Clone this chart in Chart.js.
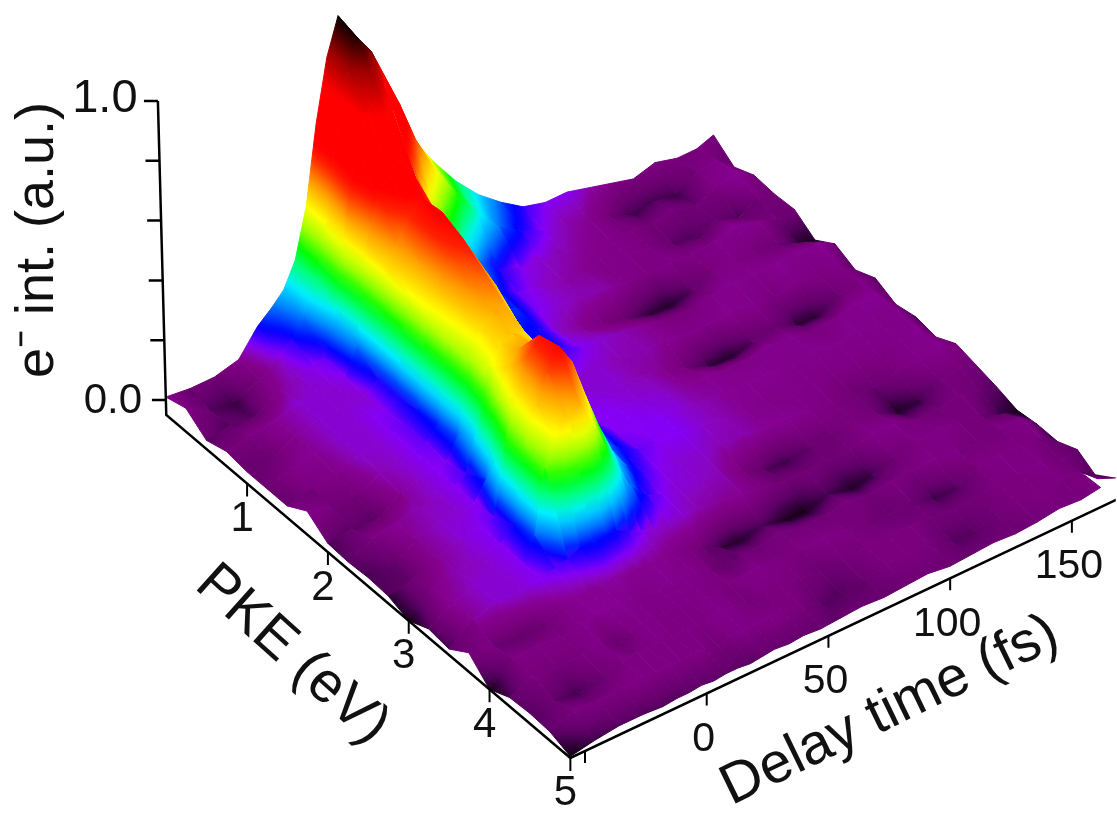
<!DOCTYPE html>
<html>
<head>
<meta charset="utf-8">
<title>PKE vs delay surface</title>
<script src="https://cdn.jsdelivr.net/npm/chart.js@4"></script>
<style>
html, body { margin: 0; padding: 0; background: #fff; overflow: hidden; }
canvas { display: block; }
</style>
</head>
<body>
<canvas id="surface" width="1117" height="814"></canvas>
<script>
// values
const pkeValues = [0, 0.25, 0.5, 0.75, 1, 1.25, 1.5, 1.75, 2, 2.25, 2.5, 2.75, 3, 3.25, 3.5, 3.75, 4, 4.25, 4.5, 4.75, 5];
const delayValues = [-56, -46, -36, -26, -18, -12, -7, -2, 3, 8, 13, 18, 23, 28, 34, 40, 47, 55, 64, 73, 82, 91, 100, 109, 118, 127, 136, 145, 154, 162, 169];
// one row per PKE value, one column per delay
const intensity = [
  [.01,.00,.00,.02,.10,.14,.18,.26,.42,.68,.88,1.0,.92,.81,.71,.59,.48,.37,.27,.19,.13,.08,.06,.06,.04,.02,.00,.02,.00,.00,.02],
  [.03,-.02,-.03,.01,.05,.09,.15,.25,.42,.70,.90,.98,.92,.82,.70,.56,.44,.33,.22,.14,.09,.06,.04,.03,.00,-.03,-.02,-.03,.01,.02,-.03],
  [-.02,-.01,-.02,.03,.05,.06,.07,.20,.50,.72,.82,.85,.78,.62,.50,.36,.26,.16,.09,.06,.05,.04,.03,.02,.01,.00,.01,-.01,.02,.03,.00],
  [.00,.01,.03,.05,.05,.05,.06,.14,.46,.60,.66,.70,.62,.50,.35,.24,.16,.11,.07,.05,.04,.03,.02,.02,.01,-.01,-.03,.00,-.03,.01,-.005],
  [-.01,-.01,.03,.05,.05,.05,.05,.09,.45,.52,.58,.62,.56,.42,.28,.19,.13,.11,.06,.05,.04,.04,.02,.01,.02,.01,.02,.03,.02,-.01,.00],
  [-.01,.02,.03,.05,.05,.06,.06,.09,.42,.50,.59,.63,.55,.40,.25,.15,.10,.10,.05,.03,.01,-.01,-.03,-.04,-.02,.01,.02,.00,.00,-.03,-.045],
  [-.01,.01,.02,.05,.05,.06,.07,.10,.40,.49,.56,.60,.52,.36,.22,.13,.09,.09,.06,.05,.04,.03,.01,.01,.02,.03,.02,.03,.02,.03,.00],
  [.03,.00,.00,.04,.05,.06,.07,.11,.37,.47,.52,.55,.48,.32,.18,.11,.07,.05,.05,.04,.04,.03,.02,.02,.03,.02,.01,.02,.01,.02,-.03],
  [-.02,-.01,-.02,.03,.05,.06,.06,.13,.36,.44,.49,.50,.42,.26,.13,.09,.06,.05,.05,.04,.03,.00,-.03,-.04,-.02,.00,-.03,-.04,.00,.01,.00],
  [-.025,.01,.03,.04,.05,.06,.08,.22,.40,.45,.47,.46,.38,.25,.13,.08,.06,.06,.05,.05,.03,.03,.02,.02,.03,.02,.01,.02,.03,.03,-.03],
  [-.02,-.02,.03,.05,.05,.06,.12,.36,.46,.50,.50,.45,.37,.26,.16,.10,.06,.06,.06,.05,.04,.03,.03,.03,.02,.03,.02,.03,.02,.02,-.015],
  [-.025,-.01,.03,.05,.06,.07,.30,.43,.54,.60,.52,.38,.27,.20,.14,.10,.07,.06,.06,.05,.04,.03,.02,.02,.02,.01,.02,.01,.02,.03,-.025],
  [-.05,.02,.04,.05,.06,.10,.34,.46,.55,.62,.55,.42,.30,.20,.12,.08,.06,.05,.05,.04,.04,.03,.03,.02,.01,.00,-.01,.01,.02,.02,.01],
  [-.02,.03,.05,.05,.06,.12,.33,.42,.46,.48,.40,.30,.20,.13,.08,.06,.05,.05,.04,.01,-.02,-.03,-.01,.00,.01,.00,-.04,-.03,.00,.01,-.005],
  [-.03,.03,.05,.05,.06,.07,.08,.10,.11,.11,.10,.08,.06,.05,.05,.05,.04,.03,.03,.01,.00,.00,.00,.00,.02,.02,.00,.00,.01,-.01,-.02],
  [.015,.00,-.02,.00,.02,.03,.03,.03,.04,.03,.03,.03,.03,.02,.01,.00,-.03,-.04,-.02,-.04,-.045,-.02,-.04,-.03,.00,.01,.02,.01,.00,-.03,-.04],
  [-.05,.01,.02,.01,.02,.03,.03,.03,.02,.02,.02,.03,.02,.02,.01,-.02,.00,.00,.01,.00,.00,.01,.00,.01,.01,.02,.01,.00,.01,.02,-.03],
  [-.02,.01,.00,.01,.02,-.02,.01,.02,.02,.01,.02,.01,.02,.01,.01,.02,.02,.01,.01,.02,.01,.00,-.01,.00,-.03,-.02,.01,.02,.01,.01,-.03],
  [-.015,-.01,-.03,.00,.01,.02,.01,.02,.01,.02,.01,.02,.02,.02,.00,.01,.01,.01,-.01,.00,.01,.01,.01,.00,.00,.00,.01,.01,.02,-.01,.00],
  [-.02,.01,.01,.01,.02,.01,.02,.01,.02,.01,.00,.01,.02,.01,.02,.01,.01,-.02,-.02,-.01,.01,.01,.01,-.02,-.02,.00,.01,.01,.01,.01,-.04],
  [-.045,-.03,-.02,-.02,-.025,-.02,-.02,-.015,-.02,-.015,-.015,-.02,-.015,-.01,-.015,-.01,-.015,-.01,-.005,-.01,-.005,.00,-.01,-.005,.00,-.005,.00,.01,.005,.015,.02]
];

const intTicks = [0, 0.2, 0.4, 0.6, 0.8, 1];
const intTickLabels = ['0.0', '', '', '', '', '1.0'];
const pkeTicks = [1, 2, 3, 4, 5];
const pkeTickLabels = ['1', '2', '3', '4', '5'];
const delayTicks = [-50, 0, 50, 100, 150];
const delayTickLabels = ['', '0', '50', '100', '150'];

const colorLevels = [-.05, -.045, -.03, -.02, -.01, .01, .03, .045, .06, .08, .1, .15, .2, .25, .3, .36, .42, .5, .58, .62, .8, .9, 1];
const colorRgb = [[10,0,10],[20,0,20],[55,0,65],[85,0,95],[104,0,110],[122,0,126],[134,0,145],[136,5,190],[133,0,245],[58,0,255],[0,0,255],[0,136,255],[0,240,255],[0,255,128],[0,255,0],[160,255,0],[255,255,0],[255,160,0],[255,32,0],[255,0,0],[255,0,0],[160,0,0],[0,0,0]];

const FLOOR = -0.05;
const DELAY_MIN = delayValues[0];

// oblique view of the box: PKE runs down-right, delay up-right, intensity up
function project(pke, delay, z) {
  const t = delay - DELAY_MIN;
  return {
    x: 165 + 81 * pke + 2.44 * t - 8 * z,
    y: 400 + 68.8 * pke - 1.155 * t - 300 * z
  };
}

function colorAt(z) {
  if (z <= colorLevels[0]) return colorRgb[0];
  for (let i = 1; i < colorLevels.length; i++) {
    if (z <= colorLevels[i]) {
      const f = (z - colorLevels[i - 1]) / (colorLevels[i] - colorLevels[i - 1]);
      return colorRgb[i].map((c, k) => Math.round(colorRgb[i - 1][k] + (c - colorRgb[i - 1][k]) * f));
    }
  }
  return colorRgb[colorRgb.length - 1];
}
const css = c => `rgb(${c[0]},${c[1]},${c[2]})`;

// linear gradient that follows the intensity slope of one cell on screen
function cellPaint(chart, corners) {
  const sx = chart.scales.x, sy = chart.scales.y;
  const pts = corners.map(c => {
    const p = project(c.pke, c.delay, c.z);
    return { x: sx.getPixelForValue(p.x), y: sy.getPixelForValue(p.y), z: c.z };
  });
  const zs = pts.map(p => p.z);
  const zMin = Math.min(...zs), zMax = Math.max(...zs);
  const zMid = zs.reduce((a, b) => a + b, 0) / 4;
  const ux = pts[2].x - pts[0].x, uy = pts[2].y - pts[0].y, uz = pts[2].z - pts[0].z;
  const vx = pts[3].x - pts[1].x, vy = pts[3].y - pts[1].y, vz = pts[3].z - pts[1].z;
  const det = ux * vy - uy * vx;
  const gx = (uz * vy - uy * vz) / det, gy = (ux * vz - uz * vx) / det;
  const g2 = gx * gx + gy * gy;
  if (zMax - zMin < 0.001 || !(g2 > 1e-12) || !isFinite(g2)) return css(colorAt(zMid));
  const cx = pts.reduce((a, p) => a + p.x, 0) / 4, cy = pts.reduce((a, p) => a + p.y, 0) / 4;
  const grad = chart.ctx.createLinearGradient(
    cx + gx / g2 * (zMin - zMid), cy + gy / g2 * (zMin - zMid),
    cx + gx / g2 * (zMax - zMid), cy + gy / g2 * (zMax - zMid));
  for (let k = 0; k <= 10; k++) {
    grad.addColorStop(k / 10, css(colorAt(zMin + (zMax - zMin) * k / 10)));
  }
  return grad;
}

function axisLine(points, width) {
  return { data: points, borderColor: '#000', borderWidth: width, pointRadius: 0, fill: false, tension: 0 };
}

function buildDatasets() {
  const sets = [];
  // axes and ticks, dataset 0 is painted last
  const pkeEnd = pkeValues[pkeValues.length - 1];
  const delayEnd = delayValues[delayValues.length - 1];
  sets.push(axisLine([project(0, DELAY_MIN, 1), project(0, DELAY_MIN, FLOOR), project(pkeEnd, DELAY_MIN, FLOOR), project(pkeEnd, delayEnd, FLOOR)], 2.5));
  intTicks.forEach(v => {
    const p = project(0, DELAY_MIN, v);
    sets.push(axisLine([p, { x: p.x - 14, y: p.y }], 2.5));
  });
  pkeTicks.forEach(v => {
    const p = project(v, DELAY_MIN, FLOOR);
    sets.push(axisLine([p, { x: p.x, y: p.y + 13 }], 2));
  });
  delayTicks.forEach(v => {
    const p = project(pkeEnd, v, FLOOR);
    sets.push(axisLine([p, { x: p.x, y: p.y + 12 }], 2));
  });
  // surface cells, nearest first so the far ones are painted before them
  for (let r = pkeValues.length - 2; r >= 0; r--) {
    for (let c = 0; c < delayValues.length - 1; c++) {
      const corners = [[r, c], [r, c + 1], [r + 1, c + 1], [r + 1, c]].map(([i, j]) => ({ pke: pkeValues[i], delay: delayValues[j], z: intensity[i][j] }));
      const outline = corners.map(k => project(k.pke, k.delay, k.z));
      outline.push(outline[0]);
      sets.push({ data: outline, corners, fill: 'shape', backgroundColor: '#7a007e', borderColor: '#7a007e', borderWidth: 1, pointRadius: 0, tension: 0 });
    }
  }
  return sets;
}

const FONT = '"Liberation Sans", Arial, sans-serif';

function drawText(ctx, text, x, y, size, angle) {
  ctx.save();
  ctx.translate(x, y);
  ctx.rotate((angle || 0) * Math.PI / 180);
  ctx.font = `${size}px ${FONT}`;
  ctx.fillStyle = '#111';
  ctx.textAlign = 'center';
  ctx.textBaseline = 'middle';
  ctx.fillText(text, 0, 0);
  ctx.restore();
}

const labelPlugin = {
  id: 'boxLabels',
  afterDraw(chart) {
    const ctx = chart.ctx;
    const px = v => chart.scales.x.getPixelForValue(v);
    const py = v => chart.scales.y.getPixelForValue(v);
    const pkeEnd = pkeValues[pkeValues.length - 1];
    intTicks.forEach((v, i) => {
      if (!intTickLabels[i]) return;
      const p = project(0, DELAY_MIN, v);
      drawText(ctx, intTickLabels[i], px(p.x) - 53, py(p.y) + (i ? -2 : 1), i ? 47 : 42);
    });
    pkeTicks.forEach((v, i) => {
      const p = project(v, DELAY_MIN, FLOOR);
      drawText(ctx, pkeTickLabels[i], px(p.x) - 5, py(p.y) + 36, 42);
    });
    delayTicks.forEach((v, i) => {
      if (!delayTickLabels[i]) return;
      const p = project(pkeEnd, v, FLOOR);
      drawText(ctx, delayTickLabels[i], px(p.x) - 3, py(p.y) + 46, 41);
    });
    drawText(ctx, 'e\u207B int. (a.u.)', 38, 240, 54, -90);
    drawText(ctx, 'PKE (eV)', 292, 655, 57, 42);
    drawText(ctx, 'Delay time (fs)', 890, 711, 57, -25.9);
  }
};

const chart = new Chart(document.getElementById('surface'), {
  type: 'line',
  data: { datasets: buildDatasets() },
  options: {
    responsive: false,
    animation: false,
    parsing: false,
    normalized: false,
    spanGaps: true,
    layout: { padding: 0 },
    plugins: { legend: { display: false }, tooltip: { enabled: false }, title: { display: false } },
    events: [],
    scales: {
      x: { type: 'linear', display: false, min: 0, max: 1117 },
      y: { type: 'linear', display: false, min: 0, max: 814, reverse: true }
    }
  },
  plugins: [labelPlugin]
});

// the scales have pixel sizes now, so the cell gradients can be made
chart.data.datasets.forEach(ds => {
  if (!ds.corners) return;
  const paint = cellPaint(chart, ds.corners);
  ds.backgroundColor = paint;
  ds.borderColor = paint;
});
chart.update('none');
</script>
</body>
</html>
